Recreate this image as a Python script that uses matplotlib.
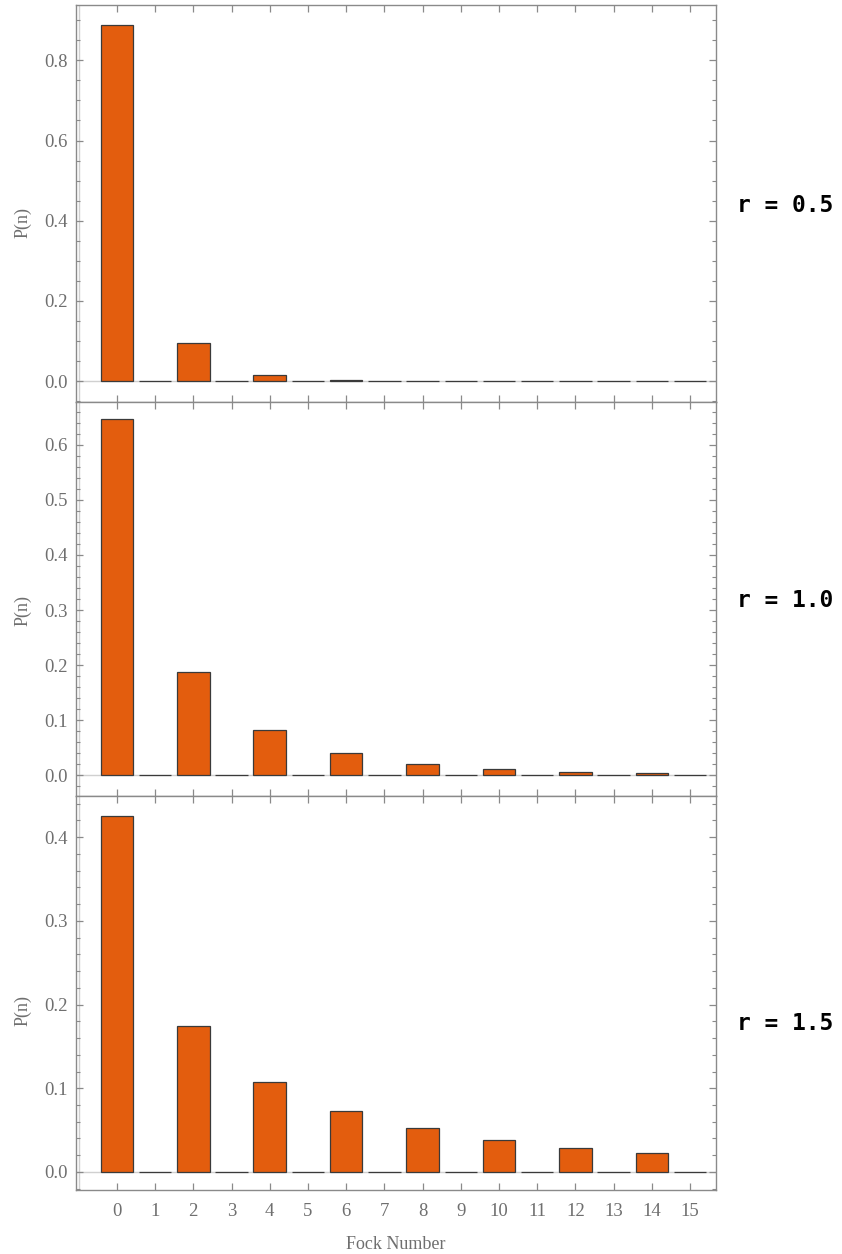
import numpy as np
import matplotlib.pyplot as plt
from matplotlib.ticker import MultipleLocator

# photon number distribution of a squeezed vacuum
fock = np.arange(16)
p_r05 = [0.887, 0, 0.095, 0, 0.0152, 0, 0.0027, 0, 0.0005, 0, 0.0001, 0, 0, 0, 0, 0]
p_r10 = [0.648, 0, 0.188, 0, 0.0817, 0, 0.0395, 0, 0.0200, 0, 0.0105, 0, 0.0056, 0, 0.0030, 0]
p_r15 = [0.425, 0, 0.174, 0, 0.107, 0, 0.0731, 0, 0.0524, 0, 0.0386, 0, 0.0290, 0, 0.0221, 0]
r_labels = ['r = 0.5', 'r = 1.0', 'r = 1.5']

series = [p_r05, p_r10, p_r15]
ylims = [(-0.052, 0.938), (-0.038, 0.678), (-0.0215, 0.449)]
major = [0.2, 0.1, 0.1]
minor = [0.05, 0.02, 0.02]

bar_color = '#E35D0E'
frame_color = '#8a8a8a'
text_color = '#6f6f6f'

plt.rcParams['font.family'] = ['Liberation Serif', 'DejaVu Serif']

fig = plt.figure(figsize=(8.42, 12.54), dpi=100)
W, H = 842, 1254
left, right = 76, 716
edges = [5, 402, 796, 1190]
ylabel_y = [222, 610, 1010]
rlabel_y = [205, 600, 1024]

for i, vals in enumerate(series):
    top, bot = edges[i], edges[i + 1]
    ax = fig.add_axes([left / W, 1 - bot / H, (right - left) / W, (bot - top) / H])

    ax.axhline(0, color='#d0d0d0', lw=1, zorder=1)
    ax.axvline(-1, color='#d0d0d0', lw=1, zorder=1)
    ax.bar(fock, vals, width=0.85, color=bar_color, edgecolor='#3a3a3a',
           linewidth=0.9, zorder=2)

    ax.set_xlim(-1.07, 15.68)
    ax.set_ylim(*ylims[i])
    ax.set_xticks(fock)
    ax.yaxis.set_major_locator(MultipleLocator(major[i]))
    ax.yaxis.set_minor_locator(MultipleLocator(minor[i]))

    for s in ax.spines.values():
        s.set_color(frame_color)
        s.set_linewidth(1.0)

    ax.tick_params(which='both', direction='in', top=True, right=True,
                   color=frame_color, labelcolor=text_color, labelsize=13.5)
    ax.tick_params(which='major', length=5, width=0.9)
    ax.tick_params(which='minor', length=3, width=0.8)
    ax.tick_params(axis='y', pad=6)

    if i < 2:
        ax.tick_params(axis='x', labelbottom=False)
    else:
        ax.tick_params(axis='x', pad=9)
        ax.set_xlabel('Fock Number', color=text_color, fontsize=13, labelpad=12)

    fig.text(23 / W, 1 - ylabel_y[i] / H, 'P(n)', color=text_color, fontsize=13,
             rotation=90, ha='center', va='center')

    fig.text(737 / W, 1 - rlabel_y[i] / H, r_labels[i],
             family='DejaVu Sans Mono', weight='bold', fontsize=16.5,
             va='center', ha='left', color='black')

fig.savefig('out.png', dpi=100)
